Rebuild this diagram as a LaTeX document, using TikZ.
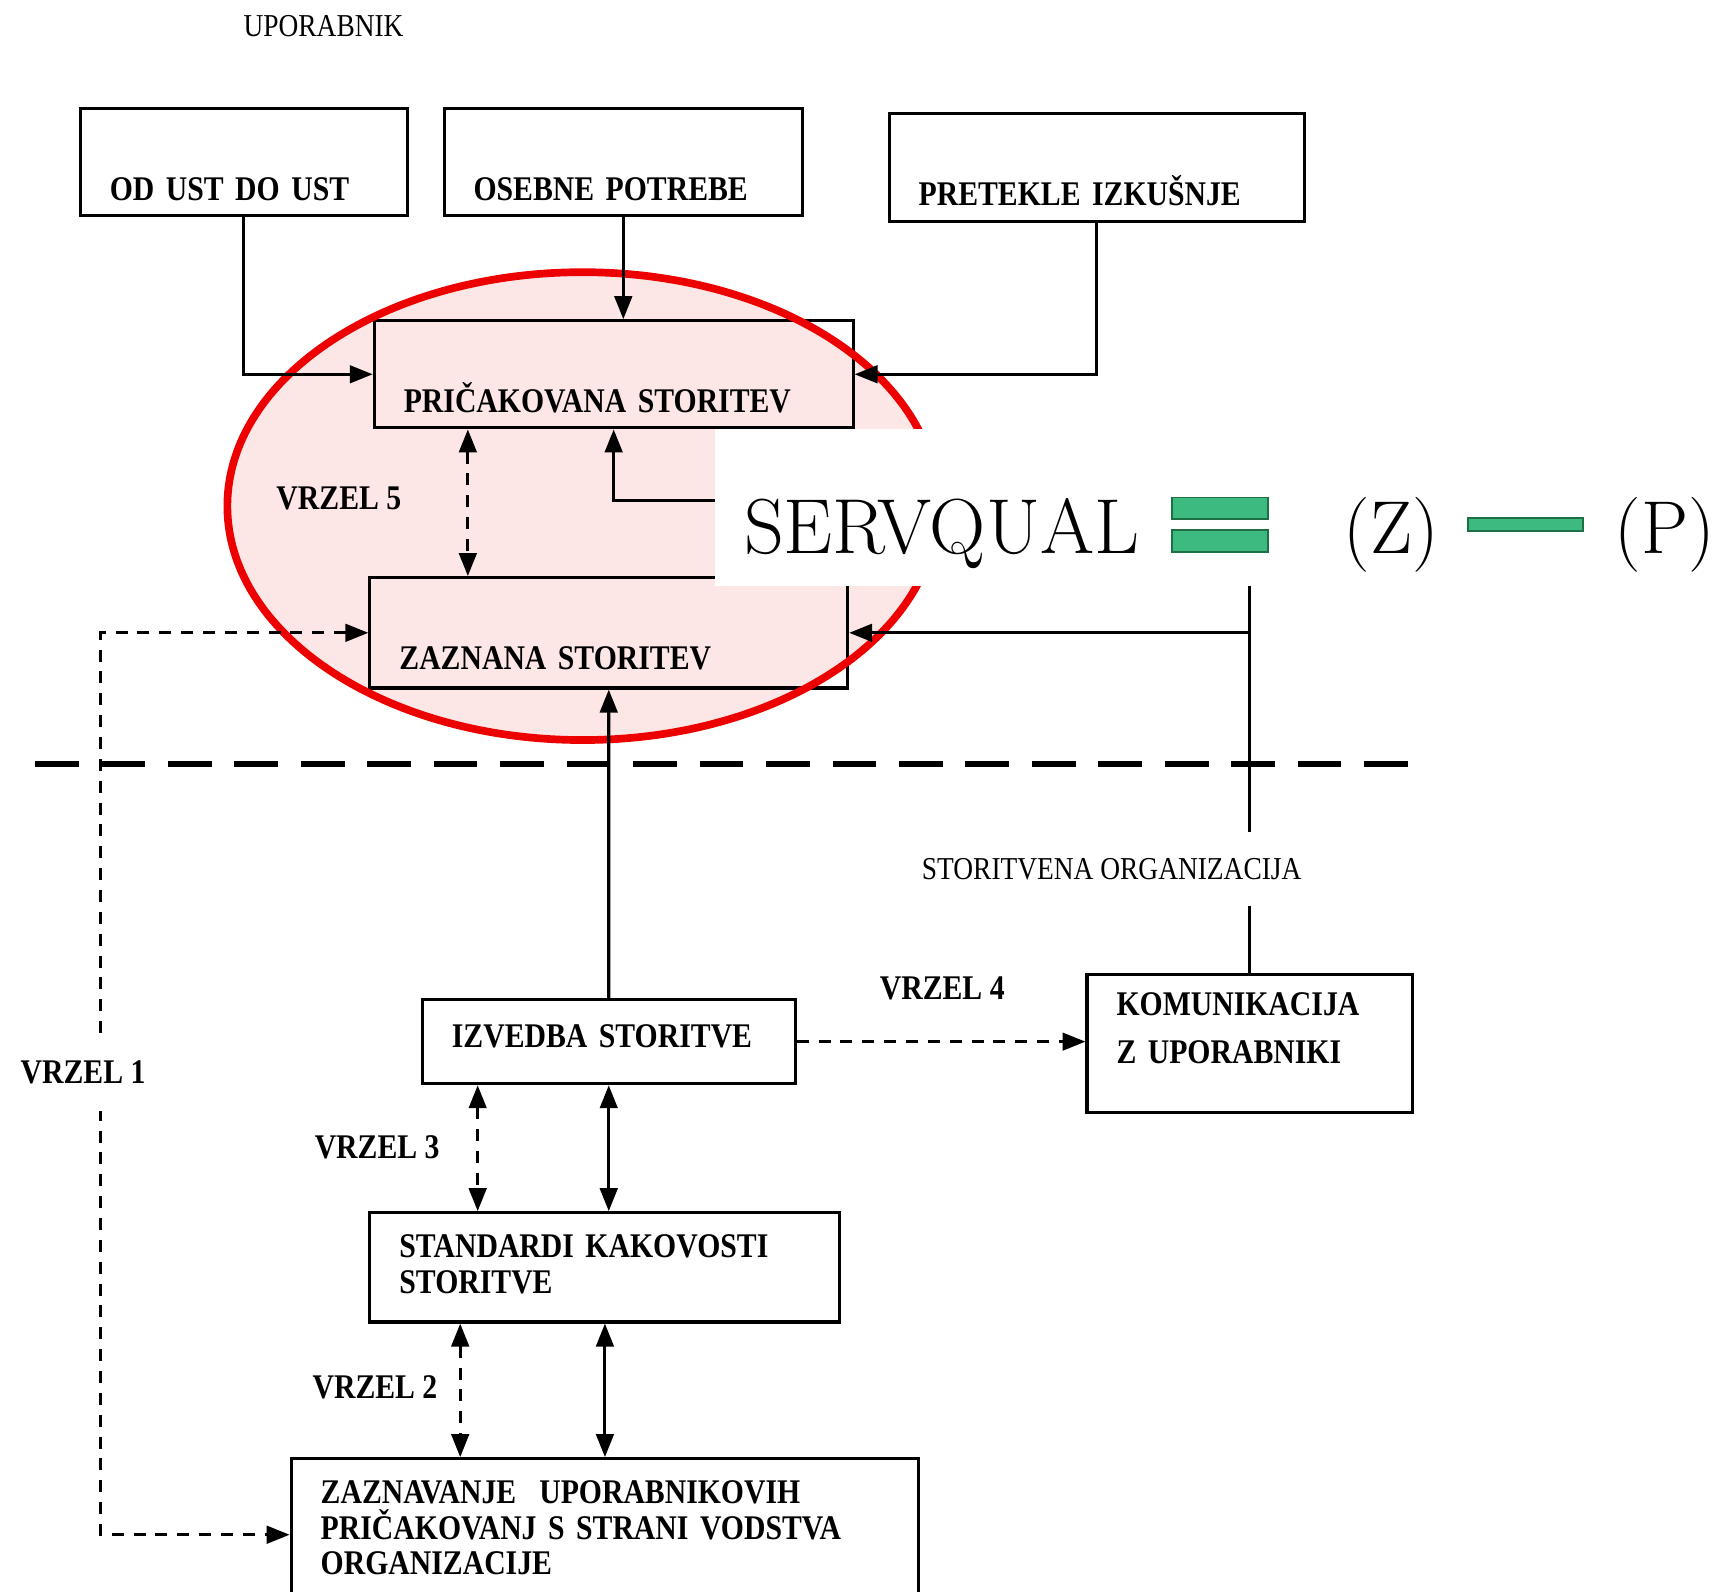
\documentclass[tikz,border=0pt]{standalone}
\usepackage{fontspec}
\usepackage{tikz}
\usetikzlibrary{arrows.meta, positioning}

\newfontfamily\boxfont{Liberation Serif}[FakeStretch=0.86]

\definecolor{ellpink}{RGB}{253,230,230}
\definecolor{gapred}{RGB}{236,0,0}
\definecolor{sqgreen}{RGB}{60,186,128}
\definecolor{sqdark}{RGB}{30,110,70}

\tikzset{
	stbox/.style={draw, line width=0.8pt, align=left, inner xsep=2.7mm, inner ysep=0pt, anchor=north west, font=\boxfont\bfseries\fontsize{9}{9.3}\selectfont},
	gaplabel/.style={font=\boxfont\bfseries\fontsize{9}{9.3}\selectfont},
	plainlabel/.style={font=\boxfont\fontsize{8.3}{9}\selectfont},
	conn/.style={line width=0.8pt, ->},
	gaplink/.style={line width=0.8pt, dash pattern=on 1.1mm off 0.9mm},
	sqtext/.style={anchor=base, inner sep=0pt, font=\rmfamily\fontsize{19.5}{21}\selectfont},
	sqbar/.style={fill=sqgreen, draw=sqdark, line width=0.4pt}
}

\begin{document}
\begin{tikzpicture}[x=0.1mm, y=-0.1mm, >={Triangle[length=2.1mm,width=1.6mm]}]
		\useasboundingbox (0,0) rectangle (1568,1456);
		\fill[ellpink] (533,463) ellipse [x radius=325, y radius=214];
		% user side
		\node[plainlabel] (upor) at (296,24) {UPORABNIK};
		\node[stbox, text width=24.5mm, text height=8.4mm, text depth=1.4mm] (odust) at (72,98) {OD UST DO UST};
		\node[stbox, text width=27.4mm, text height=8.4mm, text depth=1.4mm, anchor=west, right=3.1mm of odust] (osebne) {OSEBNE POTREBE};
		\node[stbox, text width=32.6mm, text height=8.5mm, text depth=1.4mm] (pretekle) at (812,102) {PRETEKLE IZKU\v{S}NJE};
		\node[stbox, text width=38.4mm, text height=8.4mm, text depth=1.4mm] (pric) at (341,292) {PRI\v{C}AKOVANA STORITEV};
		\node[stbox, text width=38.3mm, text height=8.4mm, text depth=1.7mm] (zaz) at (337,527) {ZAZNANA STORITEV};
		% provider side
		\node[stbox, text width=28.7mm, text height=4.4mm, text depth=3.3mm] (izv) at (385,913) {IZVEDBA STORITVE};
		\node[stbox, text width=24.4mm, text height=3.8mm, text depth=8.8mm] (kom) at (993,890) {KOMUNIKACIJA\\[3pt]Z UPORABNIKI};
		\node[stbox, text width=37.6mm, text height=4.1mm, text depth=5.9mm] (std) at (337,1108) {STANDARDI KAKOVOSTI\\STORITVE};
		\node[stbox, text width=52mm, text height=4.1mm, text depth=16mm] (zazn) at (265,1333) {ZAZNAVANJE\ \ UPORABNIKOVIH\\PRI\v{C}AKOVANJ S STRANI VODSTVA\\ORGANIZACIJE};

		\draw[gapred, line width=2pt] (533,463) ellipse [x radius=325, y radius=214];
		\draw[line width=1.5pt, dash pattern=on 4mm off 2.08mm] (32,699) -- (1288,699);

		\draw[conn] (odust) |- (pric);
		\draw[conn] (osebne.south) -- (osebne.south |- pric.north);
		\draw[conn] (pretekle) |- (pric);
		\coordinate (knee) at (kom.north |- 0,458);
		\draw[conn] (kom.north) -- (knee) -| (pric.south);
		\draw[conn] (kom.north |- zaz.east) -- (zaz.east);
		\draw[conn] (izv) -- (zaz);
		\draw[gaplink, <->] (428,0 |- pric.south) -- (428,0 |- zaz.north);
		\draw[gaplink, ->] (izv.east) -- (izv.east -| kom.west);
		\draw[gaplink, <->] (437,0 |- izv.south) -- (437,0 |- std.north);
		\draw[conn, <->] (izv.south) -- (izv.south |- std.north);
		\draw[gaplink, <->] (421,0 |- std.south) -- (421,0 |- zazn.north);
		\draw[conn, <->] (std.south) -- (std.south |- zazn.north);
		\draw[gaplink, <->] (zaz.west) -| (92,1404) -- (zazn.west |- 0,1404);

		\node[plainlabel, fill=white, inner ysep=2.4mm] (storg) at (1017,795) {STORITVENA ORGANIZACIJA};
		\node[gaplabel] (vrzel5) at (310,456) {VRZEL 5};
		\node[gaplabel] (vrzel4) at (862,904) {VRZEL 4};
		\node[gaplabel, fill=white, inner ysep=2.5mm] (vrzel1) at (76,981) {VRZEL 1};
		\node[gaplabel] (vrzel3) at (345,1050) {VRZEL 3};
		\node[gaplabel] (vrzel2) at (343,1269) {VRZEL 2};

		% formula panel
		\node[fill=white, inner sep=0pt, minimum width=91.5mm, minimum height=14.3mm, anchor=north west] (sqpanel) at (653,392) {};
		\node[sqtext, anchor=base west, font=\rmfamily\fontsize{20.3}{22}\selectfont] (sqname) at (680,506) {SERVQUAL};
		\filldraw[sqbar] (1072,455) rectangle (1160,475);
		\filldraw[sqbar] (1072,485) rectangle (1160,505);
		\node[sqtext] (sqz) at (1273,506) {(Z)};
		\filldraw[sqbar] (1343,474) rectangle (1448,486);
		\node[sqtext] (sqp) at (1523,506) {(P)};
\end{tikzpicture}
\end{document}
